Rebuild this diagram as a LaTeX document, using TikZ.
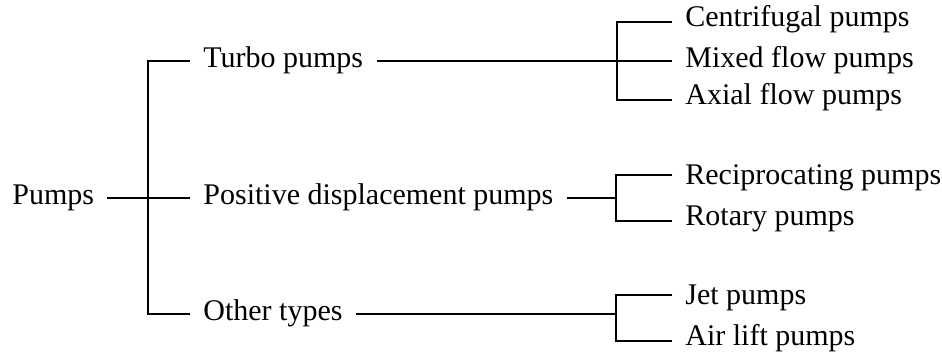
\documentclass[tikz,border=0pt]{standalone}
\usepackage{fontspec}
\setmainfont{Liberation Serif}
\usepackage{tikz}
\usetikzlibrary{positioning}

\begin{document}
\begin{tikzpicture}[x=0.5pt, y=-0.5pt,
  every node/.style={font=\fontsize{15}{17}\selectfont, inner xsep=6.5pt, inner ysep=0pt, anchor=west, text height=0.89em, text depth=0.22em},
  stublow/.style={text height=0.69em},
  stubhigh/.style={text height=1.22em},
  link/.style={draw, line width=0.9pt}]

\useasboundingbox (0,0) rectangle (942,357);

% Root
\node at (-1,198) (pumps) {Pumps};

% First level
\node at (190,61) (turbo) {Turbo pumps};
\node at (190,198) (posdisp) {Positive displacement pumps};
\node at (190,314) (other) {Other types};

% Second level
\node[stublow] at (672,22) (centri) {Centrifugal pumps};
\node at (672,61) (mixed) {Mixed flow pumps};
\node[stublow] at (672,100) (axial) {Axial flow pumps};
\node[stubhigh] at (672,175) (recip) {Reciprocating pumps};
\node[stublow] at (672,221) (rotary) {Rotary pumps};
\node[stubhigh] at (672,295) (jet) {Jet pumps};
\node[stublow] at (672,341) (airlift) {Air lift pumps};

% Bracket joints
\coordinate (j0) at (148,198);
\coordinate (b1) at (617,61);
\coordinate (b2) at (616,198);
\coordinate (b3) at (616,314);

% Root bracket
\draw[link] (pumps.east) -- (j0);
\draw[link] (turbo.west) -| (j0) |- (other.west);
\draw[link] (j0) -- (posdisp.west);

% First level to second level
\draw[link] (turbo.east) -- (b1);
\draw[link] (posdisp.east) -- (b2);
\draw[link] (other.east) -- (b3);

\draw[link] (centri.west) -| (b1) |- (axial.west);
\draw[link] (b1) -- (mixed.west);
\draw[link] (recip.west) -| (b2) |- (rotary.west);
\draw[link] (jet.west) -| (b3) |- (airlift.west);

\end{tikzpicture}
\end{document}
